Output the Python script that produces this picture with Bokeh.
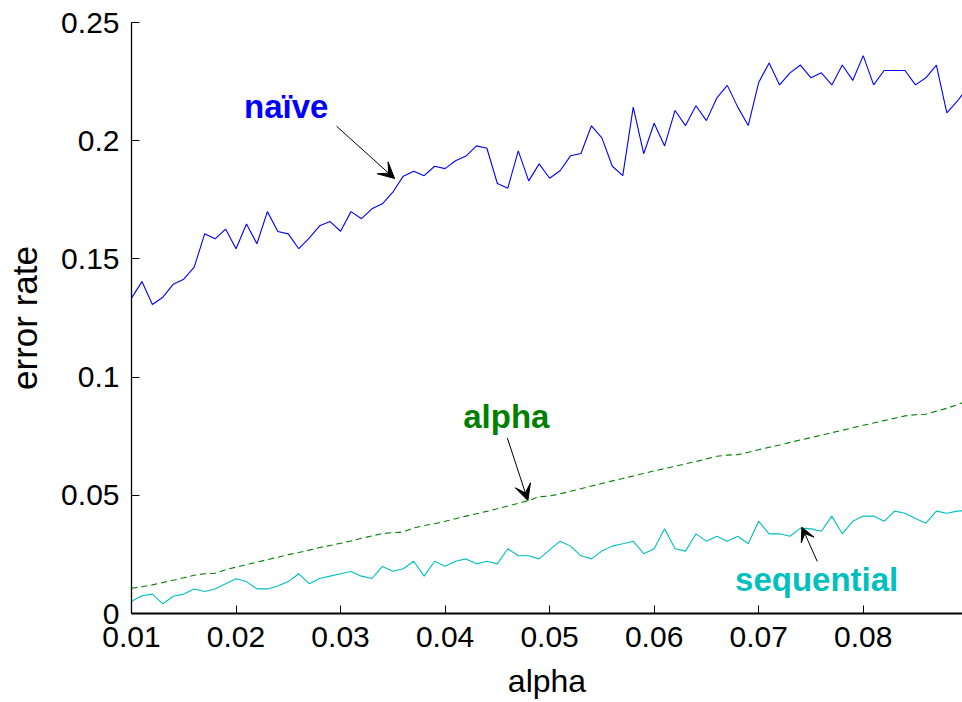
from bokeh.plotting import figure
from bokeh.models import Range1d, FixedTicker, Label, Arrow, VeeHead
from bokeh.embed import file_html
from bokeh.resources import INLINE

# significance level alpha (x axis)
alpha_x = [0.010, 0.011, 0.012, 0.013, 0.014, 0.015, 0.016, 0.017, 0.018, 0.019,
           0.020, 0.021, 0.022, 0.023, 0.024, 0.025, 0.026, 0.027, 0.028, 0.029,
           0.030, 0.031, 0.032, 0.033, 0.034, 0.035, 0.036, 0.037, 0.038, 0.039,
           0.040, 0.041, 0.042, 0.043, 0.044, 0.045, 0.046, 0.047, 0.048, 0.049,
           0.050, 0.051, 0.052, 0.053, 0.054, 0.055, 0.056, 0.057, 0.058, 0.059,
           0.060, 0.061, 0.062, 0.063, 0.064, 0.065, 0.066, 0.067, 0.068, 0.069,
           0.070, 0.071, 0.072, 0.073, 0.074, 0.075, 0.076, 0.077, 0.078, 0.079,
           0.080, 0.081, 0.082, 0.083, 0.084, 0.085, 0.086, 0.087, 0.088, 0.089,
           0.090]

naive_err = [0.1334, 0.1404, 0.1307, 0.1338, 0.1393, 0.1414, 0.1465, 0.1606, 0.1585, 0.1626,
             0.1543, 0.1648, 0.1564, 0.1700, 0.1616, 0.1606, 0.1543, 0.1588, 0.1640, 0.1658,
             0.1617, 0.1700, 0.1670, 0.1712, 0.1733, 0.1782, 0.1850, 0.1871, 0.1852, 0.1892,
             0.1882, 0.1915, 0.1935, 0.1978, 0.1968, 0.1819, 0.1799, 0.1957, 0.1830, 0.1902,
             0.1841, 0.1873, 0.1936, 0.1946, 0.2063, 0.2012, 0.1892, 0.1852, 0.2142, 0.1945,
             0.2074, 0.1978, 0.2128, 0.2064, 0.2148, 0.2085, 0.2181, 0.2234, 0.2142, 0.2064,
             0.2246, 0.2329, 0.2236, 0.2287, 0.2320, 0.2266, 0.2287, 0.2236, 0.2320, 0.2255,
             0.2360, 0.2236, 0.2297, 0.2297, 0.2297, 0.2236, 0.2266, 0.2320, 0.2118, 0.2167,
             0.2225]

alpha_err = [0.0107, 0.0113, 0.0121, 0.0131, 0.0141, 0.0151, 0.0162, 0.0168, 0.0170, 0.0185,
             0.0196, 0.0207, 0.0217, 0.0228, 0.0238, 0.0249, 0.0258, 0.0268, 0.0279, 0.0288,
             0.0297, 0.0307, 0.0318, 0.0328, 0.0338, 0.0342, 0.0345, 0.0362, 0.0372, 0.0380,
             0.0390, 0.0401, 0.0412, 0.0422, 0.0432, 0.0443, 0.0455, 0.0466, 0.0478, 0.0494,
             0.0497, 0.0506, 0.0517, 0.0528, 0.0539, 0.0550, 0.0561, 0.0571, 0.0582, 0.0592,
             0.0603, 0.0613, 0.0623, 0.0633, 0.0643, 0.0654, 0.0665, 0.0670, 0.0672, 0.0682,
             0.0693, 0.0703, 0.0713, 0.0724, 0.0734, 0.0744, 0.0754, 0.0765, 0.0775, 0.0786,
             0.0796, 0.0806, 0.0816, 0.0826, 0.0836, 0.0841, 0.0843, 0.0856, 0.0868, 0.0883,
             0.0900]

sequential_err = [0.0052, 0.0075, 0.0082, 0.0041, 0.0073, 0.0082, 0.0104, 0.0093, 0.0104, 0.0126,
                  0.0147, 0.0135, 0.0104, 0.0104, 0.0116, 0.0135, 0.0168, 0.0126, 0.0148, 0.0158,
                  0.0168, 0.0178, 0.0158, 0.0148, 0.0199, 0.0179, 0.0189, 0.0221, 0.0158, 0.0221,
                  0.0200, 0.0221, 0.0231, 0.0210, 0.0221, 0.0210, 0.0274, 0.0244, 0.0244, 0.0231,
                  0.0269, 0.0306, 0.0285, 0.0244, 0.0231, 0.0264, 0.0285, 0.0295, 0.0306, 0.0253,
                  0.0274, 0.0358, 0.0274, 0.0264, 0.0337, 0.0306, 0.0327, 0.0306, 0.0327, 0.0295,
                  0.0390, 0.0337, 0.0337, 0.0327, 0.0361, 0.0358, 0.0348, 0.0412, 0.0337, 0.0390,
                  0.0412, 0.0412, 0.0390, 0.0433, 0.0424, 0.0402, 0.0382, 0.0433, 0.0424, 0.0433,
                  0.0435]

x_ticks = [0.01, 0.02, 0.03, 0.04, 0.05, 0.06, 0.07, 0.08]
x_tick_labels = ["0.01", "0.02", "0.03", "0.04", "0.05", "0.06", "0.07", "0.08"]
y_ticks = [0.0, 0.05, 0.10, 0.15, 0.20, 0.25]
y_tick_labels = ["0", "0.05", "0.1", "0.15", "0.2", "0.25"]

FONT = "Liberation Sans"

p = figure(width=962, height=702, output_backend="svg", toolbar_location=None,
           x_range=Range1d(0.01, 0.0895), y_range=Range1d(0.0, 0.25),
           min_border_left=131, min_border_right=0, min_border_top=22, min_border_bottom=89,
           background_fill_color="white", border_fill_color="white")
p.outline_line_color = None
p.grid.visible = False

p.line(alpha_x, naive_err, line_color="#0000FF", line_width=1.1)
p.line(alpha_x, alpha_err, line_color="#008000", line_width=1.1, line_dash="6 4")
p.line(alpha_x, sequential_err, line_color="#00BFBF", line_width=1.1)

p.xaxis.ticker = FixedTicker(ticks=x_ticks)
p.xaxis.major_label_overrides = {t: l for t, l in zip(x_ticks, x_tick_labels)}
p.yaxis.ticker = FixedTicker(ticks=y_ticks)
p.yaxis.major_label_overrides = {t: l for t, l in zip(y_ticks, y_tick_labels)}

for ax in (p.xaxis[0], p.yaxis[0]):
    ax.major_tick_in = 8
    ax.major_tick_out = 0
    ax.minor_tick_line_color = None
    ax.axis_line_color = "black"
    ax.major_tick_line_color = "black"
    ax.major_label_text_font = FONT
    ax.major_label_text_font_size = "30px"
    ax.major_label_text_color = "black"
    ax.axis_label_text_font = FONT
    ax.axis_label_text_font_style = "normal"
    ax.axis_label_text_color = "black"

p.xaxis.axis_line_width = 2
p.yaxis.axis_line_width = 1.3
p.xaxis.major_label_standoff = 13
p.yaxis.major_label_standoff = 12
p.xaxis.axis_label = "alpha"
p.xaxis.axis_label_text_font_size = "32px"
p.xaxis.axis_label_standoff = 13
p.yaxis.axis_label = "error rate"
p.yaxis.axis_label_text_font_size = "35px"
p.yaxis.axis_label_standoff = 14

# annotations
p.add_layout(Label(x=0.02480, y=0.2143, text="naïve", text_color="#0000FF",
                   text_font=FONT, text_font_style="bold", text_font_size="33px",
                   text_align="center", text_baseline="middle"))
p.add_layout(Arrow(end=VeeHead(size=16, fill_color="black", line_color="black"),
                   x_start=0.02962, y_start=0.2061, x_end=0.03517, y_end=0.1840,
                   line_color="black", line_width=1))

p.add_layout(Label(x=0.04586, y=0.0832, text="alpha", text_color="#008000",
                   text_font=FONT, text_font_style="bold", text_font_size="33px",
                   text_align="center", text_baseline="middle"))
p.add_layout(Arrow(end=VeeHead(size=16, fill_color="black", line_color="black"),
                   x_start=0.04595, y_start=0.0743, x_end=0.04792, y_end=0.0478,
                   line_color="black", line_width=1))

p.add_layout(Label(x=0.07555, y=0.0144, text="sequential", text_color="#00BFBF",
                   text_font=FONT, text_font_style="bold", text_font_size="33px",
                   text_align="center", text_baseline="middle"))
p.add_layout(Arrow(end=VeeHead(size=14, fill_color="black", line_color="black"),
                   x_start=0.07561, y_start=0.0220, x_end=0.07414, y_end=0.0365,
                   line_color="black", line_width=1))

open("out.html", "w").write(file_html(p, INLINE))
